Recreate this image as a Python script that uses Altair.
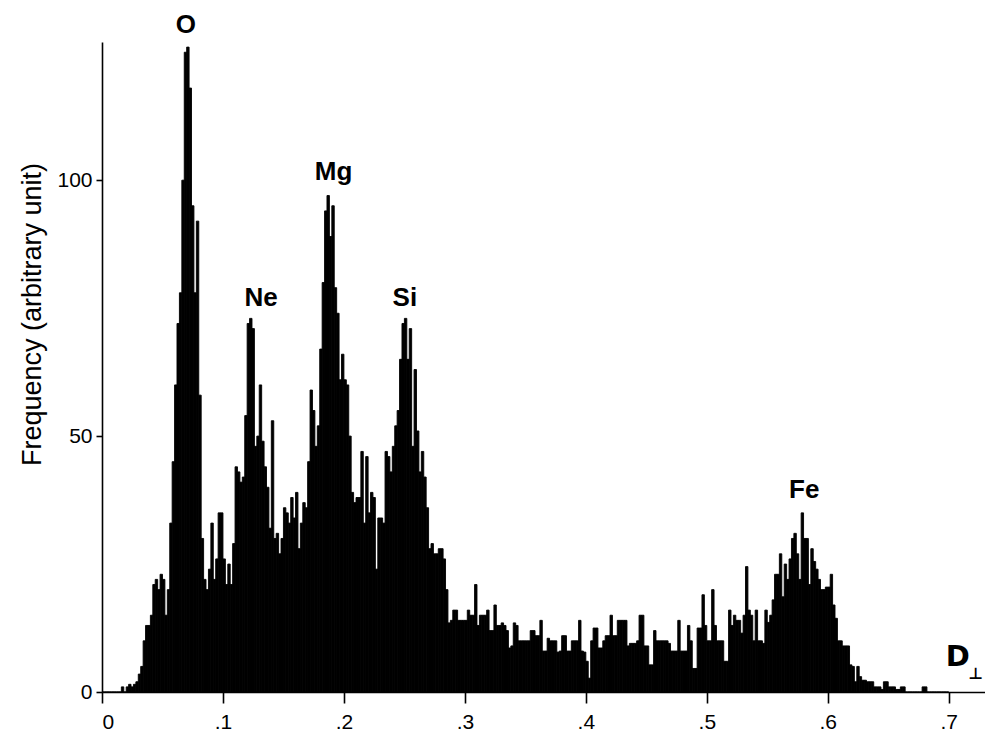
import altair as alt
import pandas as pd

# Histogram of D-perp, bin width 0.002, starting at 0
BIN = 0.002
freq = [
    0, 0, 0, 0, 0, 0, 0, 0, 1, 0,                       # 0.00-0.02
    1, 1.5, 1, 1.5, 2, 3.5, 5, 10, 13, 13,              # 0.02-0.04
    15, 21, 22, 20, 23, 22, 15, 20, 33, 45,             # 0.04-0.06
    60, 72, 78, 100, 125, 126, 118, 95, 78, 92,         # 0.06-0.08
    58, 30, 22, 20, 24, 33, 22, 26, 35, 35,             # 0.08-0.10
    26, 21, 25, 21, 29, 44, 43, 41, 42, 54,             # 0.10-0.12
    72, 73, 71, 48, 50, 60, 49, 44, 40, 32,             # 0.12-0.14
    53, 30, 31, 27, 30, 36, 35, 33, 38, 34,             # 0.14-0.16
    39, 28, 33, 37, 36, 45, 59, 55, 48, 52,             # 0.16-0.18
    67, 80, 94, 97, 89, 95, 79, 74, 61, 66,             # 0.18-0.20
    61, 60, 50, 39, 37, 38, 38, 47, 33, 46,             # 0.20-0.22
    35, 39, 38, 24, 34, 34, 33, 47, 46, 43,             # 0.22-0.24
    48, 52, 55, 65, 72, 73, 65, 71, 48, 63,             # 0.24-0.26
    51, 43, 47, 42, 36, 28, 29, 27, 27, 28,             # 0.26-0.28
    28, 26, 20, 13.5, 14, 16, 16, 14, 14, 14,           # 0.28-0.30
    14, 16, 15, 15, 21, 13, 15, 15, 15, 16,             # 0.30-0.32
    12, 12, 17, 13, 13, 13.5, 13, 12, 8.6, 9,           # 0.32-0.34
    13.5, 13, 10, 10, 10, 10, 10, 12, 12, 11,           # 0.34-0.36
    11, 14, 8, 8, 10.5, 10, 10, 10, 7.8, 8,             # 0.36-0.38
    11, 11, 8, 8, 10, 10, 10, 14, 8, 7.8,               # 0.38-0.40
    6, 2.7, 10, 12.5, 12.5, 8.6, 8.6, 10, 11, 11,       # 0.40-0.42
    15, 11, 11, 14, 14, 14, 14, 9, 9.5, 9.5,            # 0.42-0.44
    9.5, 10, 15, 15, 9, 9, 5.3, 5.3, 12, 10,            # 0.44-0.46
    10, 10, 10, 10, 9.5, 8, 8, 8, 14, 8,                # 0.46-0.48
    8, 8, 13, 10, 4.6, 4.6, 12.5, 12.5, 19, 13,         # 0.48-0.50
    10, 10, 20, 13, 10, 10, 10, 6, 6, 16,               # 0.50-0.52
    13, 15, 14, 14, 11.5, 15, 24.5, 16, 15, 10,         # 0.52-0.54
    16, 10, 10, 9.5, 16, 13.6, 15, 18, 23, 23,          # 0.54-0.56
    27, 18.6, 25, 22, 26, 30, 31, 27, 22, 35,           # 0.56-0.58
    30, 30, 21, 28, 25.5, 24, 22, 20, 20, 20.5,         # 0.58-0.60
    20.5, 23, 17, 14.4, 10, 10, 9, 9, 9, 5.3,           # 0.60-0.62
    5, 2, 5, 3, 2.3, 2.3, 2, 2, 2, 1,                   # 0.62-0.64
    1, 1, 0.5, 2, 2, 1, 1, 1, 0.5, 0.5,                 # 0.64-0.66
    1, 1, 0, 0, 0, 0, 0, 0, 0, 1,                       # 0.66-0.68
    1, 0, 0, 0, 0, 0, 0, 0, 0, 0,                       # 0.68-0.70
]

x_ticks = [0, 0.1, 0.2, 0.3, 0.4, 0.5, 0.6, 0.7]
y_ticks = [0, 50, 100]

peak_names = ["O", "Ne", "Mg", "Si", "Fe"]
peak_pos = [0.0694, 0.1315, 0.1915, 0.2504, 0.5805]
peak_lab_y = [130.3, 77, 101.6, 77, 39.5]

starts = [round(i * BIN, 4) for i in range(len(freq))]
ends = [round(s + BIN, 4) for s in starts]
hist = pd.DataFrame({"d0": starts, "d1": ends, "f": freq, "z": [0] * len(freq)})
peaks = pd.DataFrame({"name": peak_names, "d": peak_pos, "f": peak_lab_y})
dlab = pd.DataFrame({"t": ["D", "\u22a5"], "d": [0.7075, 0.7225], "f": [5.0, 2.6], "s": [29, 16]})

FONT = "Liberation Sans"
xs = alt.Scale(domain=[0, 0.73], nice=False, zero=False)
ys = alt.Scale(domain=[0, 127], nice=False)

bars = alt.Chart(hist).mark_bar(color="black", stroke="black", strokeWidth=0.9).encode(
    x=alt.X("d0:Q", scale=xs, axis=alt.Axis(
        values=x_ticks, title=None,
        labelExpr="datum.value == 0 ? '0' : replace(format(datum.value, '.1f'), '0.', '.')",
        tickSize=11, labelPadding=8)),
    x2="d1",
    y=alt.Y("f:Q", scale=ys, axis=alt.Axis(
        values=y_ticks, title="Frequency (arbitrary unit)",
        tickSize=6, labelPadding=4,
        titleX=-70, titleY=272, titleAlign="center", titleBaseline="middle",
        titleFontSize=27, titleFont=FONT, titleFontWeight="normal", titleColor="black")),
    y2="z:Q",
)

labels = alt.Chart(peaks).mark_text(
    font=FONT, fontSize=26, fontWeight="bold", color="black",
    align="center", baseline="middle").encode(
    x=alt.X("d:Q", scale=xs), y=alt.Y("f:Q", scale=ys), text="name:N")

dperp = alt.Chart(dlab).mark_text(
    font="DejaVu Sans", fontWeight="bold", color="black",
    align="center", baseline="alphabetic").encode(
    x=alt.X("d:Q", scale=xs), y=alt.Y("f:Q", scale=ys), text="t:N",
    size=alt.Size("s:Q", scale=None, legend=None))

chart = alt.layer(bars, labels, dperp).properties(
    width=883, height=650,
    autosize=alt.AutoSizeParams(type="none"),
    padding={"left": 94, "top": 34, "right": 0, "bottom": 46},
    background="white",
).configure_view(stroke=None).configure_axis(
    grid=False, domainColor="black", domainWidth=1.6,
    tickColor="black", tickWidth=1.6,
    labelColor="black", labelFont=FONT, labelFontSize=21,
)

chart.save("out.html", embed_options={"renderer": "svg", "actions": False})
